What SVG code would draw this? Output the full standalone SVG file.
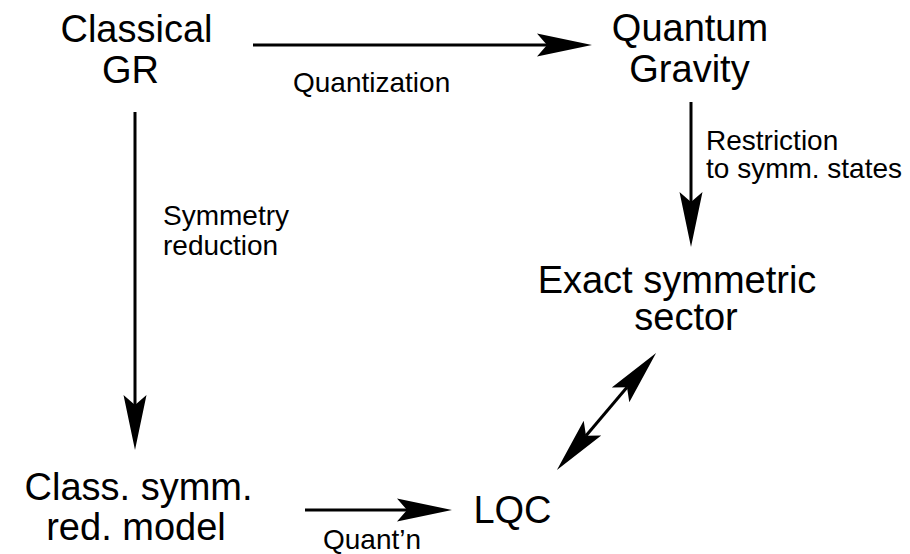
<svg xmlns="http://www.w3.org/2000/svg" width="910" height="554" viewBox="0 0 910 554">
  <style>
    text { font-family: "Liberation Sans", Arial, Helvetica, sans-serif; fill: #000; }
    .big { font-size: 38px; text-anchor: middle; }
    .lbl { font-size: 28px; }
    .edge { stroke: #000; stroke-width: 3; fill: none; }
  </style>
  <defs>
    <!-- filled, notched arrowhead; origin sits at the notch where the shaft ends -->
    <marker id="head" markerUnits="userSpaceOnUse" orient="auto-start-reverse"
            overflow="visible" markerWidth="1" markerHeight="1" refX="0" refY="0">
      <path d="M45,0 L-10,-11.5 L0,0 L-10,11.5 Z" fill="#000"/>
    </marker>
  </defs>
  <rect width="910" height="554" fill="#fff"/>

  <g id="connectors">
    <line class="edge" x1="253" y1="45" x2="547" y2="45" marker-end="url(#head)"/>
    <line class="edge" x1="135" y1="112" x2="135" y2="405" marker-end="url(#head)"/>
    <line class="edge" x1="691" y1="102" x2="691" y2="202" marker-end="url(#head)"/>
    <line class="edge" x1="305" y1="510" x2="407" y2="510" marker-end="url(#head)"/>
    <line class="edge" stroke-width="2.6" x1="627" y1="387.3" x2="586" y2="435.7"
          marker-start="url(#head)" marker-end="url(#head)"/>
    <text class="lbl" x="293" y="92">Quantization</text>
    <text class="lbl" x="163" y="225">Symmetry</text>
    <text class="lbl" x="163" y="255">reduction</text>
    <text class="lbl" x="706" y="150">Restriction</text>
    <text class="lbl" x="706" y="178">to symm. states</text>
    <text class="lbl" x="323" y="549">Quant’n</text>
  </g>

  <g id="classical-gr">
    <text class="big" x="136.5" y="42">Classical</text>
    <text class="big" x="130.5" y="83">GR</text>
  </g>
  <g id="quantum-gravity">
    <text class="big" x="690" y="41">Quantum</text>
    <text class="big" x="689.5" y="82">Gravity</text>
  </g>
  <g id="exact-symmetric-sector">
    <text class="big" x="677" y="293">Exact symmetric</text>
    <text class="big" x="686" y="330">sector</text>
  </g>
  <g id="reduced-model">
    <text class="big" x="138.5" y="500">Class. symm.</text>
    <text class="big" x="136" y="540">red. model</text>
  </g>
  <g id="lqc">
    <text class="big" x="512.5" y="523">LQC</text>
  </g>
</svg>
